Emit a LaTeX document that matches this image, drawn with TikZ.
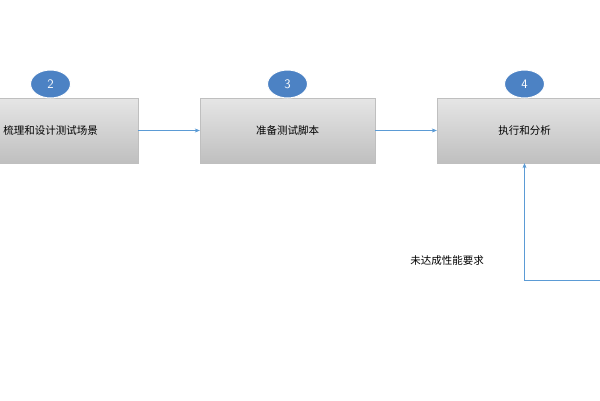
\documentclass[tikz,border=0pt]{standalone}
\usepackage{fontspec}
\newfontfamily\cjk{Noto Sans CJK SC}
\usetikzlibrary{shapes.geometric,arrows.meta}
\definecolor{numblue}{RGB}{76,130,196}
\definecolor{arrblue}{RGB}{91,155,213}
\begin{document}
\begin{tikzpicture}[x=1pt,y=-1pt,
  box/.style={draw=black!25,top color=black!10,bottom color=black!25,minimum width=175pt,minimum height=65pt,inner sep=0pt,font=\cjk\fontsize{10.5}{12}\selectfont},
  num/.style={ellipse,fill=numblue,draw=white,line width=1pt,minimum width=40pt,minimum height=28pt,inner sep=0pt,text=white,font=\sffamily\fontsize{13}{14}\selectfont},
  arr/.style={draw=arrblue,-{Stealth[length=5pt,width=4pt]}}]
\useasboundingbox (0,0) rectangle (600,400);
\begin{scope}
\clip (0,0) rectangle (600,400);
\node[box] (b1) at (50.5,130.5) {梳理和设计测试场景};
\node[box] (b2) at (287.5,130.5) {准备测试脚本};
\node[box] (b3) at (524.5,130.5) {执行和分析};
\node[num] (n2) at (50.5,84) {2};
\node[num] (n3) at (287.5,84) {3};
\node[num] (n4) at (524.5,84) {4};
\draw[arr] (b1) -- (b2);
\draw[arr] (b2) -- (b3);
\coordinate (fb) at (610,280);
\draw[arr] (fb) -- (524.5,280) -- (b3.south);
\node[font=\cjk\fontsize{10.5}{12}\selectfont] (lbl) at (447,261) {未达成性能要求};
\end{scope}
\end{tikzpicture}
\end{document}
